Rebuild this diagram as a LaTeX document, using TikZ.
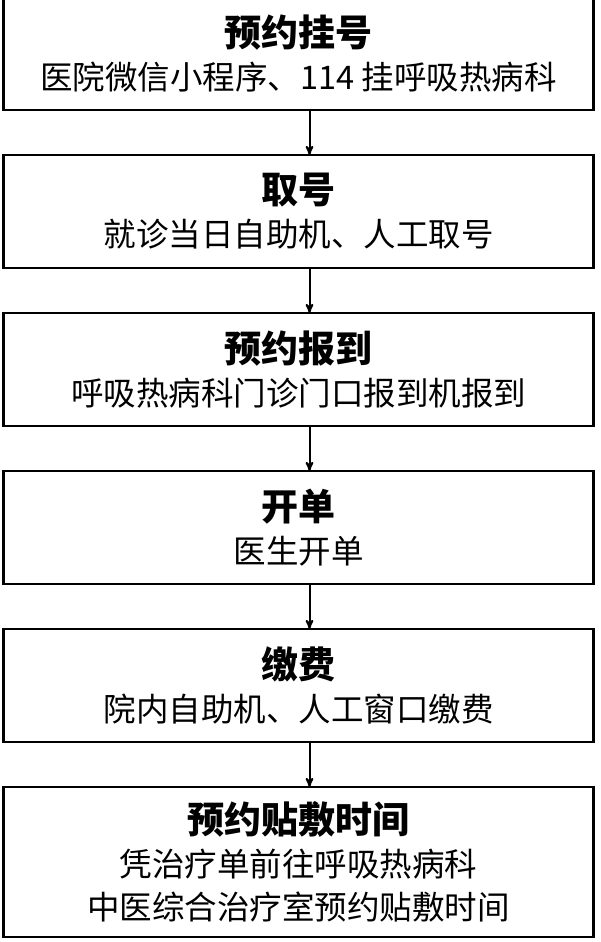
\documentclass[tikz,border=0pt]{standalone}
\usepackage{fontspec}
\setmainfont{Noto Sans CJK SC}
\usepackage{tikz}
\usetikzlibrary{arrows,positioning}

\begin{document}
\begin{tikzpicture}
	[>=stealth',node distance=45pt,
		stage box/.style={rectangle,draw,line width=2.4pt,outer sep=0pt,minimum width=590pt,minimum height=113pt,align=center,font=\fontsize{32.5pt}{43pt}\selectfont},
		flow arrow/.style={draw,->,line width=2pt}]

	\useasboundingbox (0,0) rectangle (600pt,-942pt);

	\node[stage box] (B1) at (298.5pt,-53.5pt) {{\bfseries\fontsize{37pt}{43pt}\selectfont 预约挂号}\\医院微信小程序、114 挂呼吸热病科};
	\node[stage box] (B2) [below = of B1] {{\bfseries\fontsize{37pt}{43pt}\selectfont 取号}\\就诊当日自助机、人工取号};
	\node[stage box] (B3) [below = of B2] {{\bfseries\fontsize{37pt}{43pt}\selectfont 预约报到}\\呼吸热病科门诊门口报到机报到};
	\node[stage box] (B4) [below = of B3] {{\bfseries\fontsize{37pt}{43pt}\selectfont 开单}\\医生开单};
	\node[stage box] (B5) [below = of B4] {{\bfseries\fontsize{37pt}{43pt}\selectfont 缴费}\\院内自助机、人工窗口缴费};
	\node[stage box, minimum height=150pt] (B6) [below = of B5] {{\bfseries\fontsize{37pt}{43pt}\selectfont 预约贴敷时间}\\凭治疗单前往呼吸热病科\\中医综合治疗室预约贴敷时间};

	\path[every edge/.style={flow arrow}]
	([xshift=11pt]B1.south) edge ([xshift=11pt]B2.north)
	([xshift=11pt]B2.south) edge ([xshift=11pt]B3.north)
	([xshift=11pt]B3.south) edge ([xshift=11pt]B4.north)
	([xshift=11pt]B4.south) edge ([xshift=11pt]B5.north)
	([xshift=11pt]B5.south) edge ([xshift=11pt]B6.north)
	;

\end{tikzpicture}
\end{document}
